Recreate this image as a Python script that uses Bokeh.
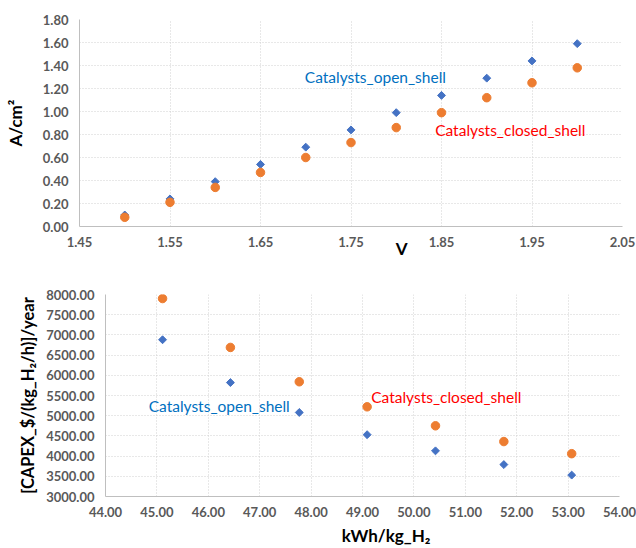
import math
from bokeh.plotting import figure
from bokeh.models import Range1d, FixedTicker, NumeralTickFormatter, Label, ColumnDataSource, LinearAxis
from bokeh.layouts import column
from bokeh.embed import file_html
from bokeh.resources import INLINE

# ---- data: top chart (current density vs voltage) ----
voltage = [1.50, 1.55, 1.60, 1.65, 1.70, 1.75, 1.80, 1.85, 1.90, 1.95, 2.00]
open_shell_current = [0.10, 0.24, 0.39, 0.54, 0.69, 0.84, 0.99, 1.14, 1.29, 1.44, 1.59]
closed_shell_current = [0.08, 0.21, 0.34, 0.47, 0.60, 0.73, 0.86, 0.99, 1.12, 1.25, 1.38]
top_x_ticks = [1.45, 1.55, 1.65, 1.75, 1.85, 1.95, 2.05]
top_y_ticks = [0.0, 0.2, 0.4, 0.6, 0.8, 1.0, 1.2, 1.4, 1.6, 1.8]

# ---- data: bottom chart (CAPEX vs specific energy) ----
energy = [45.11, 46.43, 47.77, 49.09, 50.42, 51.75, 53.07]
open_shell_capex = [6880, 5820, 5080, 4530, 4130, 3790, 3530]
closed_shell_capex = [7900, 6690, 5840, 5220, 4750, 4360, 4060]
bot_x_ticks = [44, 45, 46, 47, 48, 49, 50, 51, 52, 53, 54]
bot_y_ticks = [3000, 3500, 4000, 4500, 5000, 5500, 6000, 6500, 7000, 7500, 8000]

FONT = "Lato"
BLUE = "#4472C4"
ORANGE = "#ED7D31"
TICK_COLOR = "#595959"


def style(p, xticks, yticks, ystandoff):
    p.outline_line_color = None
    for ax in (p.xaxis[0], p.yaxis[0]):
        ax.axis_line_color = "#bfbfbf"
        ax.major_tick_line_color = None
        ax.minor_tick_line_color = None
        ax.major_tick_out = 0
        ax.major_tick_in = 0
        ax.major_label_text_font = FONT
        ax.major_label_text_font_style = "bold"
        ax.major_label_text_font_size = "13px"
        ax.major_label_text_color = TICK_COLOR
        ax.formatter = NumeralTickFormatter(format="0.00")
        ax.axis_label_text_font = FONT
        ax.axis_label_text_font_style = "bold"
        ax.axis_label_text_font_size = "17px"
        ax.axis_label_text_color = "#000000"
    p.xaxis[0].ticker = FixedTicker(ticks=xticks)
    p.yaxis[0].ticker = FixedTicker(ticks=yticks)
    p.xaxis[0].major_label_standoff = 10
    p.yaxis[0].major_label_standoff = 11
    p.yaxis[0].axis_label_standoff = ystandoff
    for g in (p.xgrid[0], p.ygrid[0]):
        g.grid_line_color = "#d0d0d0"
        g.grid_line_dash = "1 2"
        g.grid_line_width = 1


def name_axis(p, pos, text, standoff):
    ax = LinearAxis(ticker=FixedTicker(ticks=[pos]), major_label_overrides={pos: text})
    ax.axis_line_color = None
    ax.major_tick_line_color = None
    ax.minor_tick_line_color = None
    ax.major_tick_out = 0
    ax.major_tick_in = 0
    ax.major_label_standoff = standoff
    ax.major_label_text_font = FONT
    ax.major_label_text_font_style = "bold"
    ax.major_label_text_font_size = "17px"
    ax.major_label_text_color = "#000000"
    p.add_layout(ax, "below")


def markers(p, src):
    p.scatter("x", "o", source=src, marker="square", angle=math.pi / 4, size=5.6, color=BLUE)
    p.scatter("x", "c", source=src, marker="circle", size=8.5, color=ORANGE)


# ---- top figure ----
p1 = figure(width=636, height=262, output_backend="svg", toolbar_location=None,
            x_range=Range1d(1.45, 2.05), y_range=Range1d(0, 1.8),
            min_border_left=79, min_border_right=14, min_border_top=19, min_border_bottom=36)
p1.frame_align = False
style(p1, top_x_ticks, top_y_ticks, 14)
p1.yaxis[0].axis_label = "A/cm²"
markers(p1, ColumnDataSource(dict(x=voltage, o=open_shell_current, c=closed_shell_current)))

p1.add_layout(Label(x=1.699, y=1.30, text="Catalysts_open_shell", text_color="#0070C0",
                    text_font=FONT, text_font_size="15.5px", text_baseline="middle", text_align="left"))
p1.add_layout(Label(x=1.843, y=0.835, text="Catalysts_closed_shell", text_color="#FF0000",
                    text_font=FONT, text_font_size="15.5px", text_baseline="middle", text_align="left"))
name_axis(p1, 1.806, "V", -12)

# ---- bottom figure ----
p2 = figure(width=636, height=286, output_backend="svg", toolbar_location=None,
            x_range=Range1d(44, 54), y_range=Range1d(3000, 8000),
            min_border_left=105, min_border_right=17, min_border_top=32, min_border_bottom=50)
p2.frame_align = False
style(p2, bot_x_ticks, bot_y_ticks, 5)
p2.yaxis[0].axis_label = "[CAPEX_$/(kg_H₂/h)]/year"
p2.yaxis[0].axis_label_text_font_size = "16.5px"
markers(p2, ColumnDataSource(dict(x=energy, o=open_shell_capex, c=closed_shell_capex)))

p2.add_layout(Label(x=44.84, y=5245, text="Catalysts_open_shell", text_color="#0070C0",
                    text_font=FONT, text_font_size="15.5px", text_baseline="middle", text_align="left"))
p2.add_layout(Label(x=49.17, y=5451, text="Catalysts_closed_shell", text_color="#FF0000",
                    text_font=FONT, text_font_size="15.5px", text_baseline="middle", text_align="left"))
name_axis(p2, 49.46, "kWh/kg_H₂", 5)

layout = column(p1, p2, spacing=0)
open("out.html", "w").write(file_html(layout, INLINE))
